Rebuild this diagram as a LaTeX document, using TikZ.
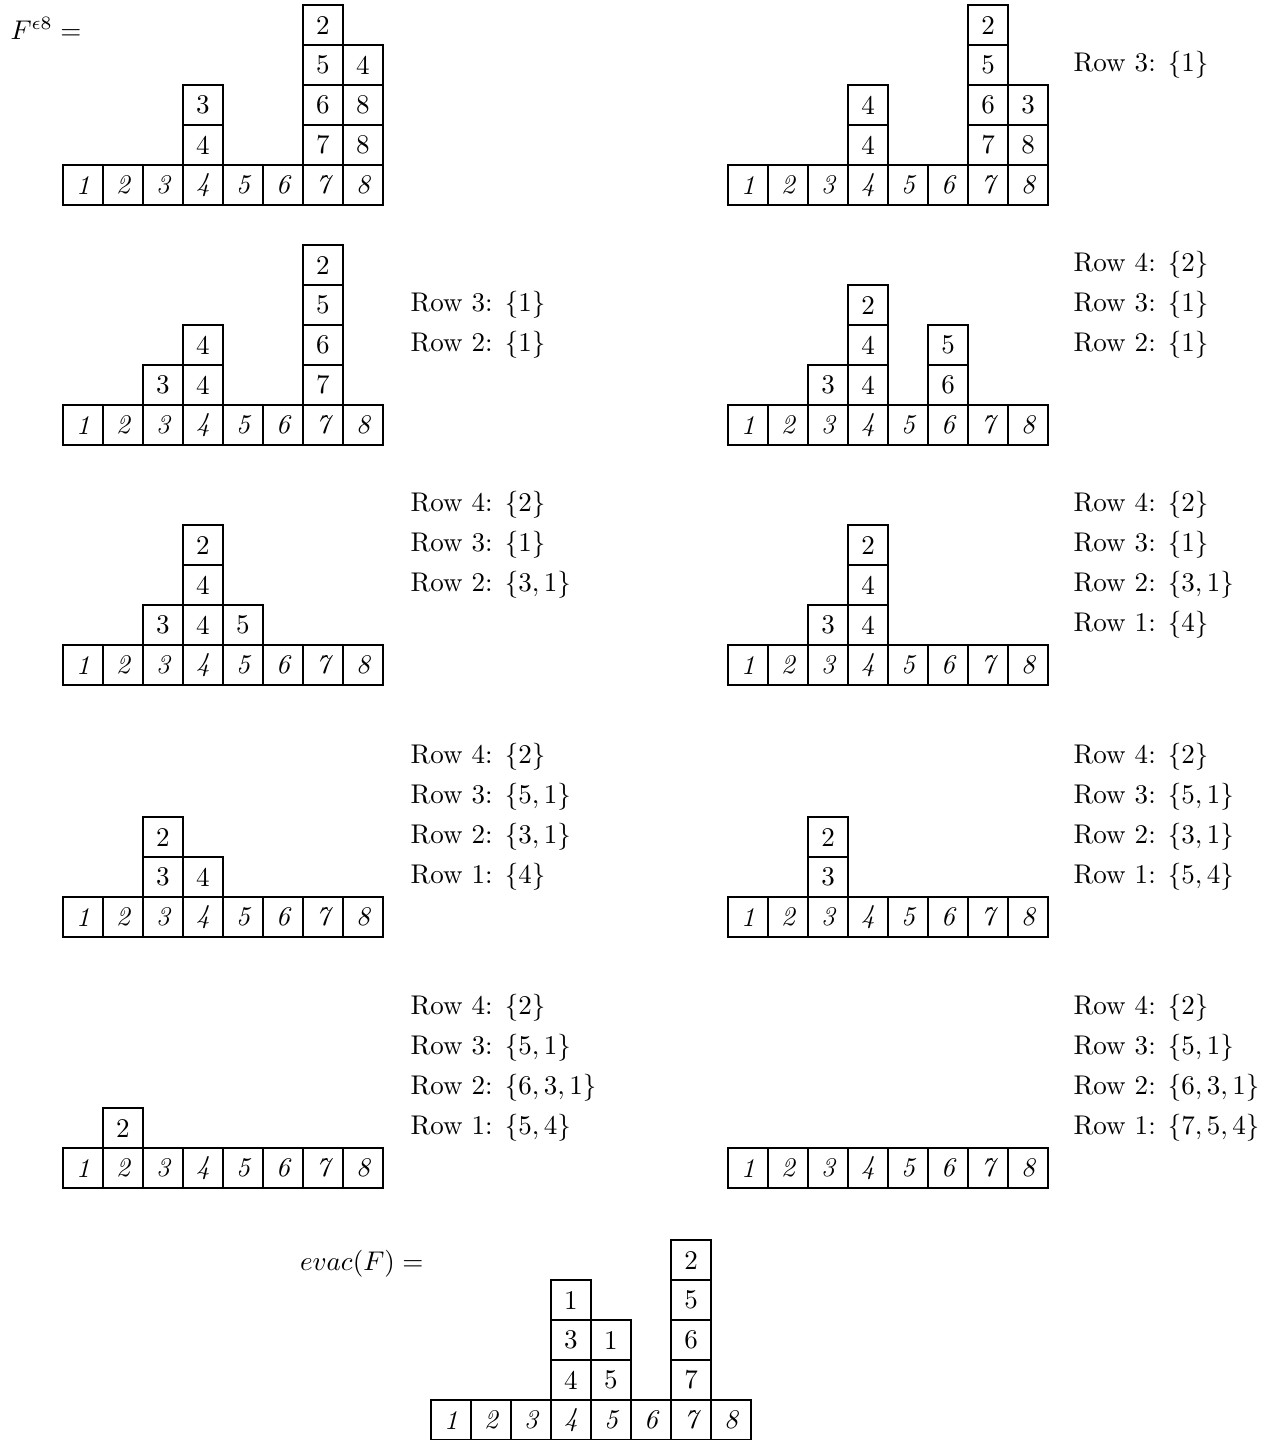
\documentclass[tikz,border=0pt]{standalone}
\usepackage{amsmath,amssymb}
\usepackage{tikz}
\usetikzlibrary{positioning}

\begin{document}
\begin{tikzpicture}[
    x=0.52cm, y=0.52cm,
    node distance=0pt,
    cell/.style={draw, line width=0.95pt, minimum size=0.52cm, inner sep=0pt, outer sep=0pt},
    base/.style={cell, font=\itshape},
    rowlab/.style={anchor=west, inner sep=0pt},
]
\useasboundingbox (0,0) rectangle (31.625,-36);

% Base rows 1..8 of every tableau
\foreach \p/\x/\y in {a/1.075/-4.625, b/17.7/-4.625, c/1.075/-10.625, d/17.7/-10.625,
    e/1.075/-16.625, f/17.7/-16.625, g/1.075/-22.925, h/17.7/-22.925,
    k/1.075/-29.2, m/17.7/-29.2, z/10.275/-35.5}
    \foreach \i in {1,...,8}
        \node[base] (\p\i) at (\x+\i,\y) {\i};

% First tableau
\node[rowlab] (flab) at (0.25,-0.7) {$F^{\epsilon 8} =$};
\node[cell, above=of a4] (a4r1) {4};
\node[cell, above=of a4r1] (a4r2) {3};
\node[cell, above=of a7] (a7r1) {7};
\node[cell, above=of a7r1] (a7r2) {6};
\node[cell, above=of a7r2] (a7r3) {5};
\node[cell, above=of a7r3] (a7r4) {2};
\node[cell, above=of a8] (a8r1) {8};
\node[cell, above=of a8r1] (a8r2) {8};
\node[cell, above=of a8r2] (a8r3) {4};

% Step 1
\node[cell, above=of b4] (b4r1) {4};
\node[cell, above=of b4r1] (b4r2) {4};
\node[cell, above=of b7] (b7r1) {7};
\node[cell, above=of b7r1] (b7r2) {6};
\node[cell, above=of b7r2] (b7r3) {5};
\node[cell, above=of b7r3] (b7r4) {2};
\node[cell, above=of b8] (b8r1) {8};
\node[cell, above=of b8r1] (b8r2) {3};
\node[rowlab] (bl3) at (26.825,-1.625) {Row 3: $\{1\}$};

% Step 2
\node[cell, above=of c3] (c3r1) {3};
\node[cell, above=of c4] (c4r1) {4};
\node[cell, above=of c4r1] (c4r2) {4};
\node[cell, above=of c7] (c7r1) {7};
\node[cell, above=of c7r1] (c7r2) {6};
\node[cell, above=of c7r2] (c7r3) {5};
\node[cell, above=of c7r3] (c7r4) {2};
\node[rowlab] (cl3) at (10.25,-7.625) {Row 3: $\{1\}$};
\node[rowlab] (cl2) at (10.25,-8.625) {Row 2: $\{1\}$};

% Step 3
\node[cell, above=of d3] (d3r1) {3};
\node[cell, above=of d4] (d4r1) {4};
\node[cell, above=of d4r1] (d4r2) {4};
\node[cell, above=of d4r2] (d4r3) {2};
\node[cell, above=of d6] (d6r1) {6};
\node[cell, above=of d6r1] (d6r2) {5};
\node[rowlab] (dl4) at (26.825,-6.625) {Row 4: $\{2\}$};
\node[rowlab] (dl3) at (26.825,-7.625) {Row 3: $\{1\}$};
\node[rowlab] (dl2) at (26.825,-8.625) {Row 2: $\{1\}$};

% Step 4
\node[cell, above=of e3] (e3r1) {3};
\node[cell, above=of e4] (e4r1) {4};
\node[cell, above=of e4r1] (e4r2) {4};
\node[cell, above=of e4r2] (e4r3) {2};
\node[cell, above=of e5] (e5r1) {5};
\node[rowlab] (el4) at (10.25,-12.625) {Row 4: $\{2\}$};
\node[rowlab] (el3) at (10.25,-13.625) {Row 3: $\{1\}$};
\node[rowlab] (el2) at (10.25,-14.625) {Row 2: $\{3,1\}$};

% Step 5
\node[cell, above=of f3] (f3r1) {3};
\node[cell, above=of f4] (f4r1) {4};
\node[cell, above=of f4r1] (f4r2) {4};
\node[cell, above=of f4r2] (f4r3) {2};
\node[rowlab] (fl4) at (26.825,-12.625) {Row 4: $\{2\}$};
\node[rowlab] (fl3) at (26.825,-13.625) {Row 3: $\{1\}$};
\node[rowlab] (fl2) at (26.825,-14.625) {Row 2: $\{3,1\}$};
\node[rowlab] (fl1) at (26.825,-15.625) {Row 1: $\{4\}$};

% Step 6
\node[cell, above=of g3] (g3r1) {3};
\node[cell, above=of g3r1] (g3r2) {2};
\node[cell, above=of g4] (g4r1) {4};
\node[rowlab] (gl4) at (10.25,-18.925) {Row 4: $\{2\}$};
\node[rowlab] (gl3) at (10.25,-19.925) {Row 3: $\{5,1\}$};
\node[rowlab] (gl2) at (10.25,-20.925) {Row 2: $\{3,1\}$};
\node[rowlab] (gl1) at (10.25,-21.925) {Row 1: $\{4\}$};

% Step 7
\node[cell, above=of h3] (h3r1) {3};
\node[cell, above=of h3r1] (h3r2) {2};
\node[rowlab] (hl4) at (26.825,-18.925) {Row 4: $\{2\}$};
\node[rowlab] (hl3) at (26.825,-19.925) {Row 3: $\{5,1\}$};
\node[rowlab] (hl2) at (26.825,-20.925) {Row 2: $\{3,1\}$};
\node[rowlab] (hl1) at (26.825,-21.925) {Row 1: $\{5,4\}$};

% Step 8
\node[cell, above=of k2] (k2r1) {2};
\node[rowlab] (kl4) at (10.25,-25.2) {Row 4: $\{2\}$};
\node[rowlab] (kl3) at (10.25,-26.2) {Row 3: $\{5,1\}$};
\node[rowlab] (kl2) at (10.25,-27.2) {Row 2: $\{6,3,1\}$};
\node[rowlab] (kl1) at (10.25,-28.2) {Row 1: $\{5,4\}$};

% Step 9
\node[rowlab] (ml4) at (26.825,-25.2) {Row 4: $\{2\}$};
\node[rowlab] (ml3) at (26.825,-26.2) {Row 3: $\{5,1\}$};
\node[rowlab] (ml2) at (26.825,-27.2) {Row 2: $\{6,3,1\}$};
\node[rowlab] (ml1) at (26.825,-28.2) {Row 1: $\{7,5,4\}$};

% Result
\node[anchor=east, inner sep=0pt] (zlab) at (10.6,-31.6) {$evac(F) =$};
\node[cell, above=of z4] (z4r1) {4};
\node[cell, above=of z4r1] (z4r2) {3};
\node[cell, above=of z4r2] (z4r3) {1};
\node[cell, above=of z5] (z5r1) {5};
\node[cell, above=of z5r1] (z5r2) {1};
\node[cell, above=of z7] (z7r1) {7};
\node[cell, above=of z7r1] (z7r2) {6};
\node[cell, above=of z7r2] (z7r3) {5};
\node[cell, above=of z7r3] (z7r4) {2};
\end{tikzpicture}
\end{document}
